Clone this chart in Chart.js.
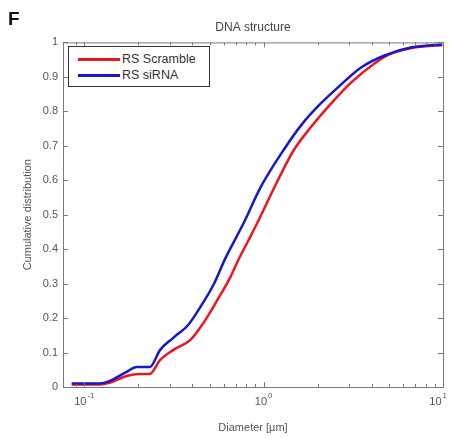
<!DOCTYPE html>
<html>
<head>
<meta charset="utf-8">
<script src="https://cdn.jsdelivr.net/npm/chart.js@4.4.1/dist/chart.umd.min.js"></script>
<style>
  body { margin: 0; background: #fff; }
  #wrap { position: relative; width: 449px; height: 438px; }
  #legend {
    position: absolute; left: 68px; top: 46px; width: 140px; height: 39px;
    border: 1px solid #333; background: #fff;
    font-family: "Liberation Sans", Arial, sans-serif; font-size: 12.5px; color: #333;
  }
  .leg-row { position: absolute; left: 0; height: 16px; line-height: 16px; white-space: nowrap; }
  .leg-line { position: absolute; left: 9px; top: 7px; width: 42px; height: 3px; }
  .leg-text { position: absolute; left: 53px; top: 0; }
</style>
</head>
<body>
<div id="wrap">
  <canvas id="toolChart" width="449" height="438"></canvas>
  <div id="legend"></div>
</div>
<script>
// ---- data ----
const scrambleDiameter = [0.085, 0.121, 0.138, 0.172, 0.203, 0.232, 0.264, 0.312, 0.389, 0.46, 0.551, 0.652, 0.724, 0.823, 0.925, 1.20, 1.47, 1.84, 2.38, 3.08, 4.15, 5.17, 6.70, 9.90];
const scrambleCdf = [0.007, 0.007, 0.012, 0.032, 0.038, 0.038, 0.078, 0.107, 0.136, 0.185, 0.252, 0.319, 0.370, 0.426, 0.478, 0.600, 0.687, 0.755, 0.823, 0.884, 0.939, 0.968, 0.984, 0.992];

const sirnaDiameter = [0.085, 0.121, 0.138, 0.172, 0.196, 0.232, 0.264, 0.312, 0.379, 0.443, 0.524, 0.612, 0.772, 0.962, 1.30, 1.62, 2.01, 2.60, 3.51, 4.72, 6.70, 9.90];
const sirnaCdf = [0.010, 0.010, 0.017, 0.044, 0.058, 0.058, 0.107, 0.142, 0.180, 0.232, 0.296, 0.374, 0.475, 0.580, 0.690, 0.760, 0.815, 0.870, 0.928, 0.962, 0.986, 0.994];

const xMajorTicks = [0.1, 1, 10];
const xTickBase = '10';
const xTickExponents = ['-1', '0', '1'];
const yTickLabels = ['0', '0.1', '0.2', '0.3', '0.4', '0.5', '0.6', '0.7', '0.8', '0.9', '1'];

const FONT = '"Liberation Sans", Arial, sans-serif';
const TEXT = '#555';
const BOX = '#7a7a7a';

function toPoints(xs, ys) {
  return xs.map((x, i) => ({ x, y: ys[i] }));
}

function isWhole(v) {
  const m = v / Math.pow(10, Math.floor(Math.log10(v) + 1e-9));
  return Math.abs(m - Math.round(m)) < 1e-6;
}

function majorIndex(v) {
  return xMajorTicks.findIndex(m => Math.abs(m - v) < 1e-9);
}

// matlab style box with inward ticks, power-of-ten labels and the panel letter
const boxPlugin = {
  id: 'boxPlugin',
  afterDraw(chart) {
    const { ctx, chartArea: a, scales } = chart;
    ctx.save();
    ctx.strokeStyle = BOX;
    ctx.lineWidth = 1;
    ctx.strokeRect(a.left + 0.5, a.top + 0.5, a.right - a.left, a.bottom - a.top);
    ctx.beginPath();
    scales.x.ticks.forEach(t => {
      const px = Math.round(scales.x.getPixelForValue(t.value)) + 0.5;
      const len = majorIndex(t.value) >= 0 ? 5 : 3;
      ctx.moveTo(px, a.bottom); ctx.lineTo(px, a.bottom - len);
      ctx.moveTo(px, a.top); ctx.lineTo(px, a.top + len);
    });
    scales.y.ticks.forEach(t => {
      const py = Math.round(scales.y.getPixelForValue(t.value)) + 0.5;
      ctx.moveTo(a.left, py); ctx.lineTo(a.left + 5, py);
      ctx.moveTo(a.right, py); ctx.lineTo(a.right - 5, py);
    });
    ctx.stroke();

    // x labels as 10 with raised exponent
    ctx.fillStyle = TEXT;
    ctx.textBaseline = 'alphabetic';
    xMajorTicks.forEach((v, i) => {
      const px = scales.x.getPixelForValue(v);
      ctx.font = '11px ' + FONT;
      const wb = ctx.measureText(xTickBase).width;
      ctx.font = '8px ' + FONT;
      const we = ctx.measureText(xTickExponents[i]).width;
      const w = wb + we + 1;
      const x0 = Math.min(px - w / 2, chart.width - 2 - w);
      ctx.font = '11px ' + FONT;
      ctx.fillText(xTickBase, x0, a.bottom + 18);
      ctx.font = '8px ' + FONT;
      ctx.fillText(xTickExponents[i], x0 + wb + 1, a.bottom + 11);
    });

    ctx.fillStyle = '#111';
    ctx.font = 'bold 19px ' + FONT;
    ctx.fillText('F', 8, 25);
    ctx.restore();
  }
};

const chart = new Chart(document.getElementById('toolChart'), {
  type: 'line',
  data: {
    datasets: [
      { label: 'RS Scramble', data: toPoints(scrambleDiameter, scrambleCdf), borderColor: 'rgb(232,24,30)', order: 1 },
      { label: 'RS siRNA', data: toPoints(sirnaDiameter, sirnaCdf), borderColor: 'rgb(22,22,205)', order: 0 }
    ]
  },
  options: {
    responsive: false,
    animation: false,
    layout: { padding: { left: 0, right: 6, top: 0, bottom: 0 } },
    elements: {
      point: { radius: 0 },
      line: { borderWidth: 2.5, cubicInterpolationMode: 'monotone', fill: false }
    },
    plugins: {
      legend: { display: false },
      tooltip: { enabled: false },
      title: {
        display: true, text: 'DNA structure', fullSize: false, color: '#444',
        font: { family: FONT, size: 12, weight: 'normal' },
        padding: { top: 20, bottom: 8 }
      }
    },
    scales: {
      x: {
        type: 'logarithmic', min: 0.076, max: 10,
        grid: { display: false, drawTicks: false },
        border: { display: false },
        afterBuildTicks: s => { s.ticks = s.ticks.filter(t => isWhole(t.value)); },
        afterFit: s => { s.height = 51; s.paddingLeft = 0; s.paddingRight = 0; },
        ticks: {
          autoSkip: false, maxRotation: 0, padding: 8,
          font: { family: FONT, size: 11 },
          callback: () => ''
        },
        title: {
          display: true, text: 'Diameter [\u00B5m]', color: TEXT,
          font: { family: FONT, size: 11 }, padding: { top: 0, bottom: 3.5 }
        }
      },
      y: {
        min: 0, max: 1,
        grid: { display: false, drawTicks: false },
        border: { display: false },
        afterFit: s => { s.width = 63; },
        ticks: {
          stepSize: 0.1, padding: 5, color: TEXT,
          font: { family: FONT, size: 11 },
          callback: (v, i) => yTickLabels[i]
        },
        title: {
          display: true, text: 'Cumulative distribution', color: TEXT,
          font: { family: FONT, size: 11 }, padding: { top: 21, bottom: 0 }
        }
      }
    }
  },
  plugins: [boxPlugin]
});

// legend box inside the axes
const legend = document.getElementById('legend');
legend.innerHTML = chart.data.datasets.map((d, i) =>
  `<div class="leg-row" style="top:${4 + i * 16}px">
     <span class="leg-line" style="background:${d.borderColor}"></span>
     <span class="leg-text">${d.label}</span>
   </div>`).join('');
</script>
</body>
</html>
